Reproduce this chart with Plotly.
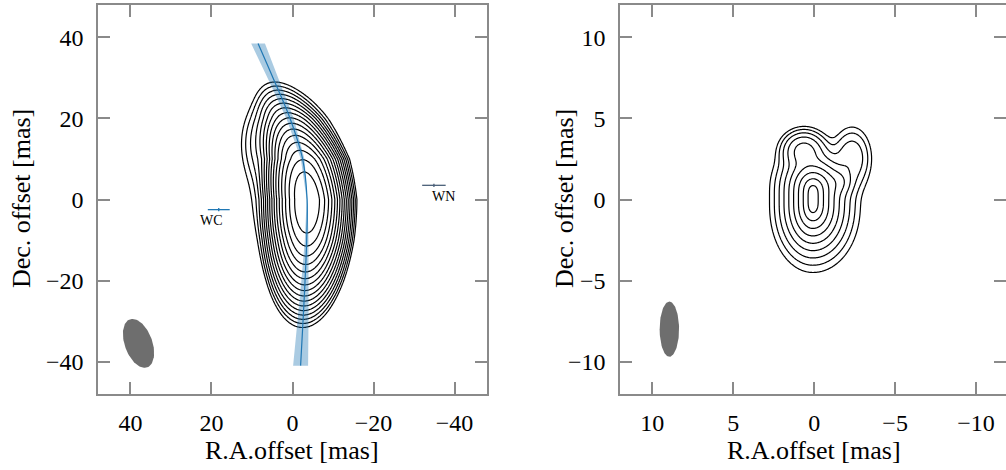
import numpy as np
import plotly.graph_objects as go

# ---------------- data ----------------
# Jet ridge line and its uncertainty band (left panel), mas
JET_Y = [-41.0, -30.0, -20.0, -10.0, 0.0, 10.0, 20.0, 30.0, 38.5]
JET_X = [-2.0, -2.6, -3.1, -3.5, -3.6, -2.5, 0.6, 4.8, 8.5]
JET_HW = [1.85, 1.35, 0.9, 0.45, 0.1, 0.45, 0.9, 1.35, 1.7]

# Left panel emission: bright component elongated along the ridge
L_PEAK_Y = -0.5
L_SIG_ALONG_N = 6.2     # along-ridge width, north side
L_SIG_ALONG_S = 6.6     # along-ridge width, south side
L_SIG_ACROSS = 2.6      # across-ridge width
# faint extra components: x, y, sigma_x, sigma_y, relative flux
L_EX_X = [-1.0, 6.0]
L_EX_Y = [3.0, 14.0]
L_EX_SX = [4.8, 3.0]
L_EX_SY = [9.0, 5.0]
L_EX_AMP = [2.0e-4, 1.5e-4]
L_NLEV = 16             # contour levels: peak * 2^-k, k = 1..16

# Right panel emission: cored-exponential main component + knots
R_X0, R_Y0 = 0.08, 0.05
R_HX_E, R_HX_W = 0.43, 0.47
R_HY_N, R_HY_S = 0.45, 0.64
R_B_N, R_B_S = 0.9, 0.6
R_K_X = [0.65, -2.35, -1.5]
R_K_Y = [3.0, 2.6, 1.1]
R_K_SX = [0.65, 0.6, 0.45]
R_K_SY = [0.6, 0.95, 0.45]
R_K_AMP = [0.04, 0.013, 0.02]
R_NLEV = 9

# Reference positions with error bars
MARK_NAME = ["WC", "WN"]
MARK_X = [18.2, -34.9]
MARK_Y = [-2.5, 3.5]
MARK_EX = [2.7, 2.9]
MARK_EY = [0.4, 0.4]
MARK_COLOR = ["#1f77b4", "#4a5f78"]
LABEL_X = [20.1, -37.2]
LABEL_Y = [-5.3, 0.7]

# Restoring beams: centre x, centre y, major FWHM, minor FWHM, PA
BEAM_L = dict(x=38.0, y=-35.5, maj=12.6, mnr=6.8, pa=20.0)
BEAM_R = dict(x=8.95, y=-8.0, maj=3.4, mnr=1.2, pa=0.0)

L_TICKS = [40, 20, 0, -20, -40]
R_TICKS = [10, 5, 0, -5, -10]


def gauss(X, Y, x0, y0, sx, sy):
    return np.exp(-0.5 * (((X - x0) / sx) ** 2 + ((Y - y0) / sy) ** 2))


def left_image(xg, yg):
    X, Y = np.meshgrid(xg, yg)
    xr = np.interp(Y, JET_Y, JET_X)
    ds = Y - L_PEAK_Y
    sa = np.where(ds > 0, L_SIG_ALONG_N, L_SIG_ALONG_S)
    img = np.exp(-0.5 * ((ds / sa) ** 2 + ((X - xr) / L_SIG_ACROSS) ** 2))
    for x0, y0, sx, sy, a in zip(L_EX_X, L_EX_Y, L_EX_SX, L_EX_SY, L_EX_AMP):
        img += a * gauss(X, Y, x0, y0, sx, sy)
    return np.log2(img / img.max() + 1e-30)


def right_image(xg, yg):
    X, Y = np.meshgrid(xg, yg)
    dx = X - R_X0
    dy = Y - R_Y0
    hx = np.where(dx > 0, R_HX_E, R_HX_W)
    hy = np.where(dy > 0, R_HY_N, R_HY_S)
    b = np.where(dy > 0, R_B_N, R_B_S)
    ey = np.sqrt(dy ** 2 + b ** 2) - b
    img = np.exp(-np.sqrt((dx / hx) ** 2 + (ey / hy) ** 2))
    for x0, y0, sx, sy, a in zip(R_K_X, R_K_Y, R_K_SX, R_K_SY, R_K_AMP):
        img += a * gauss(X, Y, x0, y0, sx, sy)
    return np.log2(img / img.max() + 1e-30)


def beam_xy(b):
    t = np.linspace(0, 2 * np.pi, 100)
    a, c = b["maj"] / 2, b["mnr"] / 2
    th = np.deg2rad(b["pa"])
    u, v = c * np.cos(t), a * np.sin(t)
    x = b["x"] + u * np.cos(th) + v * np.sin(th)
    y = b["y"] - u * np.sin(th) + v * np.cos(th)
    return x, y


fig = go.Figure()

# ---- left panel ----
xl = np.arange(-30, 30.01, 0.2)
yl = np.arange(-45, 45.01, 0.2)
zl = left_image(xl, yl)

jx = np.array(JET_X)
jy = np.array(JET_Y)
jw = np.array(JET_HW)
fig.add_trace(go.Scatter(
    x=np.concatenate([jx + jw, (jx - jw)[::-1]]),
    y=np.concatenate([jy, jy[::-1]]),
    fill="toself", fillcolor="rgba(31,119,180,0.38)", line=dict(width=0),
    mode="lines", hoverinfo="skip", xaxis="x", yaxis="y"))

fig.add_trace(go.Contour(
    x=xl, y=yl, z=zl, xaxis="x", yaxis="y",
    contours=dict(coloring="none", start=-L_NLEV, end=-1, size=1),
    line=dict(color="black", width=1.2), showscale=False, hoverinfo="skip"))

fig.add_trace(go.Scatter(x=JET_X, y=JET_Y, mode="lines",
                         line=dict(color="#1f77b4", width=1.2, shape="spline"),
                         xaxis="x", yaxis="y"))

for i in range(len(MARK_NAME)):
    fig.add_trace(go.Scatter(
        x=[MARK_X[i]], y=[MARK_Y[i]], mode="markers",
        marker=dict(size=1, color=MARK_COLOR[i]),
        error_x=dict(type="data", array=[MARK_EX[i]], color=MARK_COLOR[i], thickness=1.3, width=0),
        error_y=dict(type="data", array=[MARK_EY[i]], color=MARK_COLOR[i], thickness=1.3, width=0),
        xaxis="x", yaxis="y"))
    fig.add_annotation(x=LABEL_X[i], y=LABEL_Y[i], xref="x", yref="y", text=MARK_NAME[i],
                       showarrow=False, font=dict(size=14, family="Liberation Serif", color="black"))

bx, by = beam_xy(BEAM_L)
fig.add_trace(go.Scatter(x=bx, y=by, fill="toself", fillcolor="#6e6e6e", line=dict(width=0),
                         mode="lines", xaxis="x", yaxis="y"))

# ---- right panel ----
xr = np.arange(-7, 7.001, 0.04)
yr = np.arange(-8, 8.001, 0.04)
zr = right_image(xr, yr)
fig.add_trace(go.Contour(
    x=xr, y=yr, z=zr, xaxis="x2", yaxis="y2",
    contours=dict(coloring="none", start=-R_NLEV, end=-1, size=1),
    line=dict(color="black", width=1.2), showscale=False, hoverinfo="skip"))

bx, by = beam_xy(BEAM_R)
fig.add_trace(go.Scatter(x=bx, y=by, fill="toself", fillcolor="#6e6e6e", line=dict(width=0),
                         mode="lines", xaxis="x2", yaxis="y2"))

# ---- layout ----
FONT = "Liberation Serif"
ax = dict(showline=True, linecolor="#8a8a8a", linewidth=1.5, mirror="ticks",
          ticks="inside", ticklen=12, tickwidth=1.5, tickcolor="#8a8a8a",
          showgrid=False, zeroline=False, automargin=False,
          tickfont=dict(family=FONT, size=24, color="black"))

W, H = 1006, 470
ML, MR, MT, MB = 98, 0, 5, 76
PW = W - ML - MR
PH = H - MT - MB

fig.update_layout(
    width=W, height=H, margin=dict(l=ML, r=MR, t=MT, b=MB),
    plot_bgcolor="white", paper_bgcolor="white", showlegend=False,
    font=dict(family=FONT, size=24, color="black"),
    xaxis=dict(ax, domain=[0, (487 - ML) / PW], range=[48, -48], tickvals=L_TICKS,
               anchor="y", ticklabelstandoff=6),
    yaxis=dict(ax, domain=[0, 1], range=[-48, 48], tickvals=L_TICKS, anchor="x",
               ticklabelstandoff=8),
    xaxis2=dict(ax, domain=[(620 - ML) / PW, 1], range=[12, -11.85], tickvals=R_TICKS,
                anchor="y2", ticklabelstandoff=6),
    yaxis2=dict(ax, domain=[0, 1], range=[-12, 12], tickvals=R_TICKS, anchor="x2",
                ticklabelstandoff=8),
)


def px(xp):
    return (xp - ML) / PW


def py(yp):
    return (H - MB - yp) / PH


for xt, yt, txt, ang in [(292, 450, "R.A.offset [mas]", 0), (814, 450, "R.A.offset [mas]", 0),
                         (21, 199, "Dec. offset [mas]", -90), (564, 199, "Dec. offset [mas]", -90)]:
    fig.add_annotation(x=px(xt), y=py(yt), xref="paper", yref="paper", text=txt,
                       showarrow=False, textangle=ang, xanchor="center", yanchor="middle",
                       font=dict(family=FONT, size=26, color="black"))

fig.write_html("out.html", config={"displayModeBar": False},
               post_script="document.body.style.margin='0';document.body.style.overflow='hidden';")
